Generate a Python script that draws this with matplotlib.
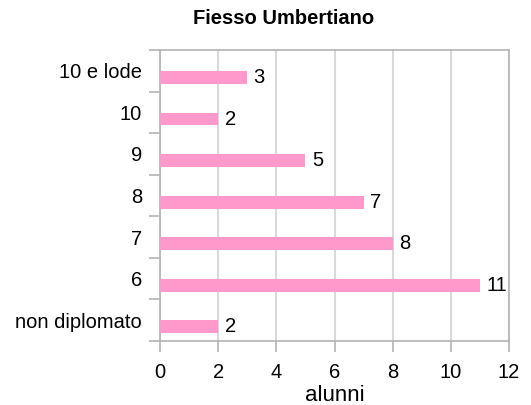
import matplotlib
matplotlib.use("Agg")
import matplotlib.pyplot as plt
import numpy as np

plt.rcParams["font.family"] = ["Liberation Sans", "DejaVu Sans"]

categories = ["non diplomato", "6", "7", "8", "9", "10", "10 e lode"]
alunni = [2, 11, 8, 7, 5, 2, 3]
xticks = [0, 2, 4, 6, 8, 10, 12]

BAR = "#ff99cc"
GRID = "#d9d9d9"
BORDER = "#b3b3b3"
FS = 14.5

fig = plt.figure(figsize=(5.31, 4.05), dpi=100)
ax = fig.add_axes([0.3013, 0.158, 0.6573, 0.7185])

pos = np.arange(len(categories))
# bar sits in the lower half of each category slot (second series of two)
ax.barh(pos - 0.16, alunni, height=0.31, color=BAR, zorder=3)
for y, v in zip(pos, alunni):
    ax.text(v + 0.22, y - 0.16, str(v), va="center", ha="left",
            fontsize=FS, color="black", zorder=4)

ax.set_xlim(0, 12)
ax.set_ylim(-0.5, len(categories) - 0.5)
ax.set_xticks(xticks)
ax.set_xticklabels([str(t) for t in xticks], fontsize=FS)
ax.set_yticks(pos)
ax.set_yticklabels(categories, fontsize=FS)
ax.set_yticks(np.arange(len(categories) + 1) - 0.5, minor=True)

ax.tick_params(axis="y", which="major", length=0, pad=13)
ax.tick_params(axis="y", which="minor", length=8, width=1.2, color=BORDER)
ax.tick_params(axis="x", which="major", length=8, width=1.2, color=BORDER, pad=8)

ax.grid(axis="x", color=GRID, linewidth=1.5, zorder=0)
for s in ax.spines.values():
    s.set_color(BORDER)
    s.set_linewidth(1.2)

ax.set_xlabel("alunni", fontsize=16, labelpad=2)
fig.text(284 / 531, 1 - 18 / 405, "Fiesso Umbertiano", ha="center", va="center",
         fontsize=14.5, fontweight="bold")

fig.savefig("out.png", dpi=100)
